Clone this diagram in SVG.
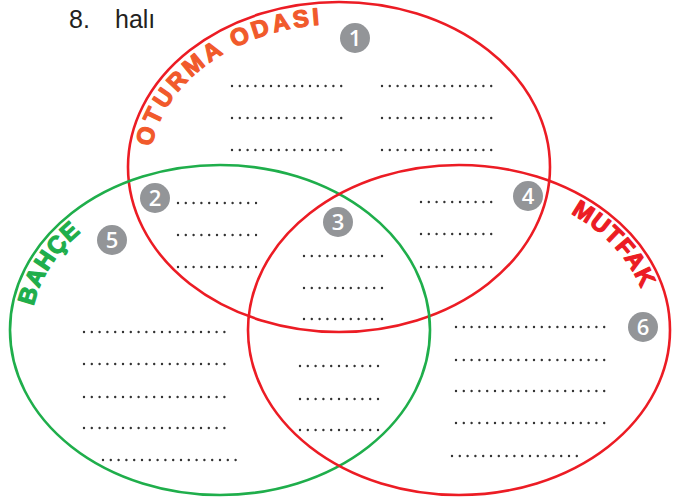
<svg xmlns="http://www.w3.org/2000/svg" width="678" height="499" viewBox="0 0 678 499">
<style>
.set{fill:none;stroke-width:2.6}
.red{stroke:#ec1c24}
.green{stroke:#1fae4b}
.dots{stroke:#333;stroke-width:2.4;stroke-linecap:round;stroke-dasharray:0 7.8;fill:none}
.badge{fill:#939598}
.num{fill:#fff;font-family:"Open Sans","Liberation Sans",sans-serif;font-size:22px;font-weight:600;text-anchor:middle}
.label{font-family:"Liberation Sans",Arial,sans-serif;font-weight:bold;font-size:24px;stroke-width:1.2;stroke-linejoin:round}
.title{font-family:"Liberation Sans",Arial,sans-serif;font-size:25px;fill:#231f20}
</style>
<defs>
<path id="pTop" d="M150,167 A189,143 0 0 1 528,167"/>
<path id="pLeft" d="M31,330 A189,144 0 0 1 409,330"/>
<path id="pRight" d="M459,186 A190,144 0 0 1 649,330"/>
</defs>
<rect width="678" height="499" fill="#fff"/>
<g id="title"><text class="title" x="69" y="28">8.</text><text class="title" x="115" y="28">halı</text></g>
<g id="set-oturma-odasi">
<ellipse class="set red" cx="339" cy="167" rx="211" ry="165"/>
<text class="label" fill="#f15a2b" stroke="#f15a2b" letter-spacing="3.2"><textPath href="#pTop" startOffset="20">OTURMA ODASI</textPath></text>
</g>
<g id="set-bahce">
<ellipse class="set green" cx="220" cy="330" rx="210" ry="165"/>
<text class="label" fill="#1fae4b" stroke="#1fae4b" letter-spacing="1"><textPath href="#pLeft" startOffset="24">BAHÇE</textPath></text>
</g>
<g id="set-mutfak">
<ellipse class="set red" cx="459" cy="330" rx="211" ry="165"/>
<text class="label" fill="#ec1c24" stroke="#ec1c24" letter-spacing="1"><textPath href="#pRight" startOffset="116">MUTFAK</textPath></text>
</g>
<g id="region-1">
<circle class="badge" cx="355" cy="38" r="15"/><text class="num" x="355" y="46">1</text>
<line class="dots" x1="232" y1="86" x2="341.2" y2="86"/>
<line class="dots" x1="232" y1="118" x2="341.2" y2="118"/>
<line class="dots" x1="232" y1="150" x2="341.2" y2="150"/>
<line class="dots" x1="382" y1="86" x2="491.2" y2="86"/>
<line class="dots" x1="382" y1="118" x2="491.2" y2="118"/>
<line class="dots" x1="382" y1="150" x2="491.2" y2="150"/>
</g>
<g id="region-2">
<circle class="badge" cx="155" cy="198" r="15"/><text class="num" x="155" y="206">2</text>
<line class="dots" x1="178" y1="203" x2="256" y2="203"/>
<line class="dots" x1="178" y1="235" x2="256" y2="235"/>
<line class="dots" x1="178" y1="267" x2="256" y2="267"/>
</g>
<g id="region-3">
<circle class="badge" cx="338" cy="222" r="15"/><text class="num" x="338" y="230">3</text>
<line class="dots" x1="304" y1="256" x2="385" y2="256"/>
<line class="dots" x1="304" y1="288" x2="385" y2="288"/>
<line class="dots" x1="304" y1="319" x2="385" y2="319"/>
<line class="dots" x1="300" y1="366" x2="381" y2="366"/>
<line class="dots" x1="300" y1="399" x2="381" y2="399"/>
<line class="dots" x1="300" y1="430" x2="381" y2="430"/>
</g>
<g id="region-4">
<circle class="badge" cx="528" cy="196" r="15"/><text class="num" x="528" y="204">4</text>
<line class="dots" x1="421" y1="202" x2="499" y2="202"/>
<line class="dots" x1="421" y1="234" x2="499" y2="234"/>
<line class="dots" x1="421" y1="267" x2="499" y2="267"/>
</g>
<g id="region-5">
<circle class="badge" cx="112" cy="240" r="15"/><text class="num" x="112" y="248">5</text>
<line class="dots" x1="84" y1="332" x2="232.2" y2="332"/>
<line class="dots" x1="84" y1="364" x2="232.2" y2="364"/>
<line class="dots" x1="84" y1="397" x2="232.2" y2="397"/>
<line class="dots" x1="84" y1="428" x2="232.2" y2="428"/>
<line class="dots" x1="103" y1="460" x2="235.6" y2="460"/>
</g>
<g id="region-6">
<circle class="badge" cx="643" cy="327" r="15"/><text class="num" x="643" y="335">6</text>
<line class="dots" x1="456" y1="327" x2="604.2" y2="327"/>
<line class="dots" x1="456" y1="360" x2="604.2" y2="360"/>
<line class="dots" x1="456" y1="391" x2="604.2" y2="391"/>
<line class="dots" x1="456" y1="423" x2="604.2" y2="423"/>
<line class="dots" x1="452" y1="456" x2="584.6" y2="456"/>
</g>
</svg>
